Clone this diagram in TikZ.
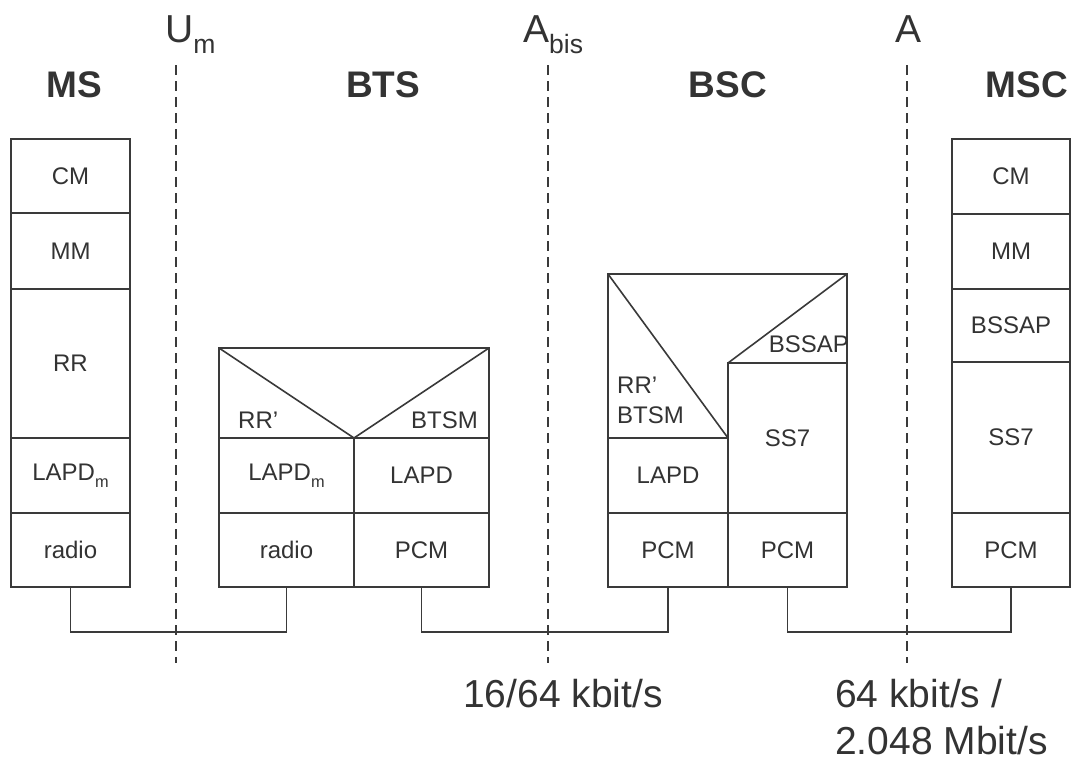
\documentclass[tikz,border=0pt]{standalone}
\usepackage{fontspec}
\setmainfont{Liberation Sans}
\definecolor{ink}{HTML}{3A3A3A}
\definecolor{txt}{HTML}{333333}
\newcommand\lowsub[1]{\raisebox{-0.3em}{\scalebox{0.68}{#1}}}
\begin{document}
\begin{tikzpicture}[x=1pt,y=-1pt,
  cell/.style={draw=ink, line width=1.6pt, rectangle, inner sep=0pt, outer sep=0pt, text=txt, font=\fontsize{24}{28}\selectfont},
  lbl/.style={text=txt, inner sep=0pt, font=\fontsize{24}{28}\selectfont},
  title/.style={text=txt, inner sep=0pt, anchor=base, font=\fontsize{37}{40}\selectfont\bfseries},
  iface/.style={text=txt, inner sep=0pt, font=\fontsize{39}{42}\selectfont},
  rate/.style={text=txt, inner sep=0pt, anchor=base west, font=\fontsize{39}{42}\selectfont},
  boundary/.style={draw=ink, line width=1.3pt, dash pattern=on 10pt off 6pt},
  link/.style={draw=ink, line width=1.5pt},
  edge/.style={draw=ink, line width=1.6pt, line join=miter}
]
\useasboundingbox[fill=white] (0,0) rectangle (1076,763);

% boundaries
\coordinate (um-top) at (176,65);   \coordinate (um-bot) at (176,663);
\coordinate (abis-top) at (548,65); \coordinate (abis-bot) at (548,663);
\coordinate (a-top) at (907,65);    \coordinate (a-bot) at (907,663);
\draw[boundary] (um-top) -- (um-bot);
\draw[boundary] (abis-top) -- (abis-bot);
\draw[boundary] (a-top) -- (a-bot);

% interface labels
\node[iface, anchor=base west] (l-um) at (165,42) {U\lowsub{m}};
\node[iface, anchor=base west] (l-abis) at (523,42) {A\lowsub{bis}};
\node[iface, anchor=base] (l-a) at (908,42) {A};

% titles
\node[title] (t-ms) at (74,97) {MS};
\node[title] (t-bts) at (383,97) {BTS};
\node[title] (t-bsc) at (728,97) {BSC};
\node[title] (t-msc) at (1027,97) {MSC};

% MS stack
\node[cell, minimum width=119, minimum height=74] (ms-cm) at (70.5,176) {CM};
\node[cell, minimum width=119, minimum height=76] (ms-mm) at (70.5,251) {MM};
\node[cell, minimum width=119, minimum height=149] (ms-rr) at (70.5,363.5) {RR};
\node[cell, minimum width=119, minimum height=75] (ms-lapdm) at (70.5,475.5) {LAPD\lowsub{m}};
\node[cell, minimum width=119, minimum height=74] (ms-radio) at (70.5,550) {radio};

% BTS stack
\node[cell, minimum width=270, minimum height=90] (bts-top) at (354,393) {};
\node[cell, minimum width=135, minimum height=75] (bts-lapdm) at (286.5,475.5) {LAPD\lowsub{m}};
\node[cell, minimum width=135, minimum height=75] (bts-lapd) at (421.5,475.5) {LAPD};
\node[cell, minimum width=135, minimum height=74] (bts-radio) at (286.5,550) {radio};
\node[cell, minimum width=135, minimum height=74] (bts-pcm) at (421.5,550) {PCM};
\draw[edge] (bts-top.north west) -- (bts-lapdm.north east) -- (bts-top.north east);
\node[lbl, anchor=base west] (bts-rr) at (238,428) {RR’};
\node[lbl, anchor=base east] (bts-btsm) at (478,428) {BTSM};

% BSC stack
\node[cell, minimum width=120, minimum height=75] (bsc-lapd) at (668,475.5) {LAPD};
\node[cell, minimum width=120, minimum height=74] (bsc-pcm1) at (668,550) {PCM};
\node[cell, minimum width=119, minimum height=150] (bsc-ss7) at (787.5,438) {SS7};
\node[cell, minimum width=119, minimum height=74] (bsc-pcm2) at (787.5,550) {PCM};
\coordinate (bsc-tl) at (608,274);
\coordinate (bsc-tr) at (847,274);
\draw[edge] (bsc-lapd.north west) -- (bsc-tl) -- (bsc-tr) -- (bsc-ss7.north east);
\draw[edge] (bsc-tl) -- (bsc-lapd.north east);
\draw[edge] (bsc-ss7.north west) -- (bsc-tr);
\node[lbl, anchor=base west] (bsc-rr) at (617,393) {RR’};
\node[lbl, anchor=base west] (bsc-btsm) at (617,423) {BTSM};
\node[lbl, anchor=base east] (bsc-bssap) at (849,352) {BSSAP};

% MSC stack
\node[cell, minimum width=118, minimum height=75] (msc-cm) at (1011,176.5) {CM};
\node[cell, minimum width=118, minimum height=75] (msc-mm) at (1011,251.5) {MM};
\node[cell, minimum width=118, minimum height=73] (msc-bssap) at (1011,325.5) {BSSAP};
\node[cell, minimum width=118, minimum height=151] (msc-ss7) at (1011,437.5) {SS7};
\node[cell, minimum width=118, minimum height=74] (msc-pcm) at (1011,550) {PCM};

% physical links
\draw[link] (ms-radio.south) -- ++(0,45) -| (bts-radio.south);
\draw[link] (bts-pcm.south) -- ++(0,45) -| (bsc-pcm1.south);
\draw[link] (bsc-pcm2.south) -- ++(0,45) -| (msc-pcm.south);

% rates
\node[rate] (r-abis) at (463,707) {16/64 kbit/s};
\node[rate] (r-a1) at (835,707) {64 kbit/s /};
\node[rate] (r-a2) at (835,754) {2.048 Mbit/s};
\end{tikzpicture}
\end{document}
